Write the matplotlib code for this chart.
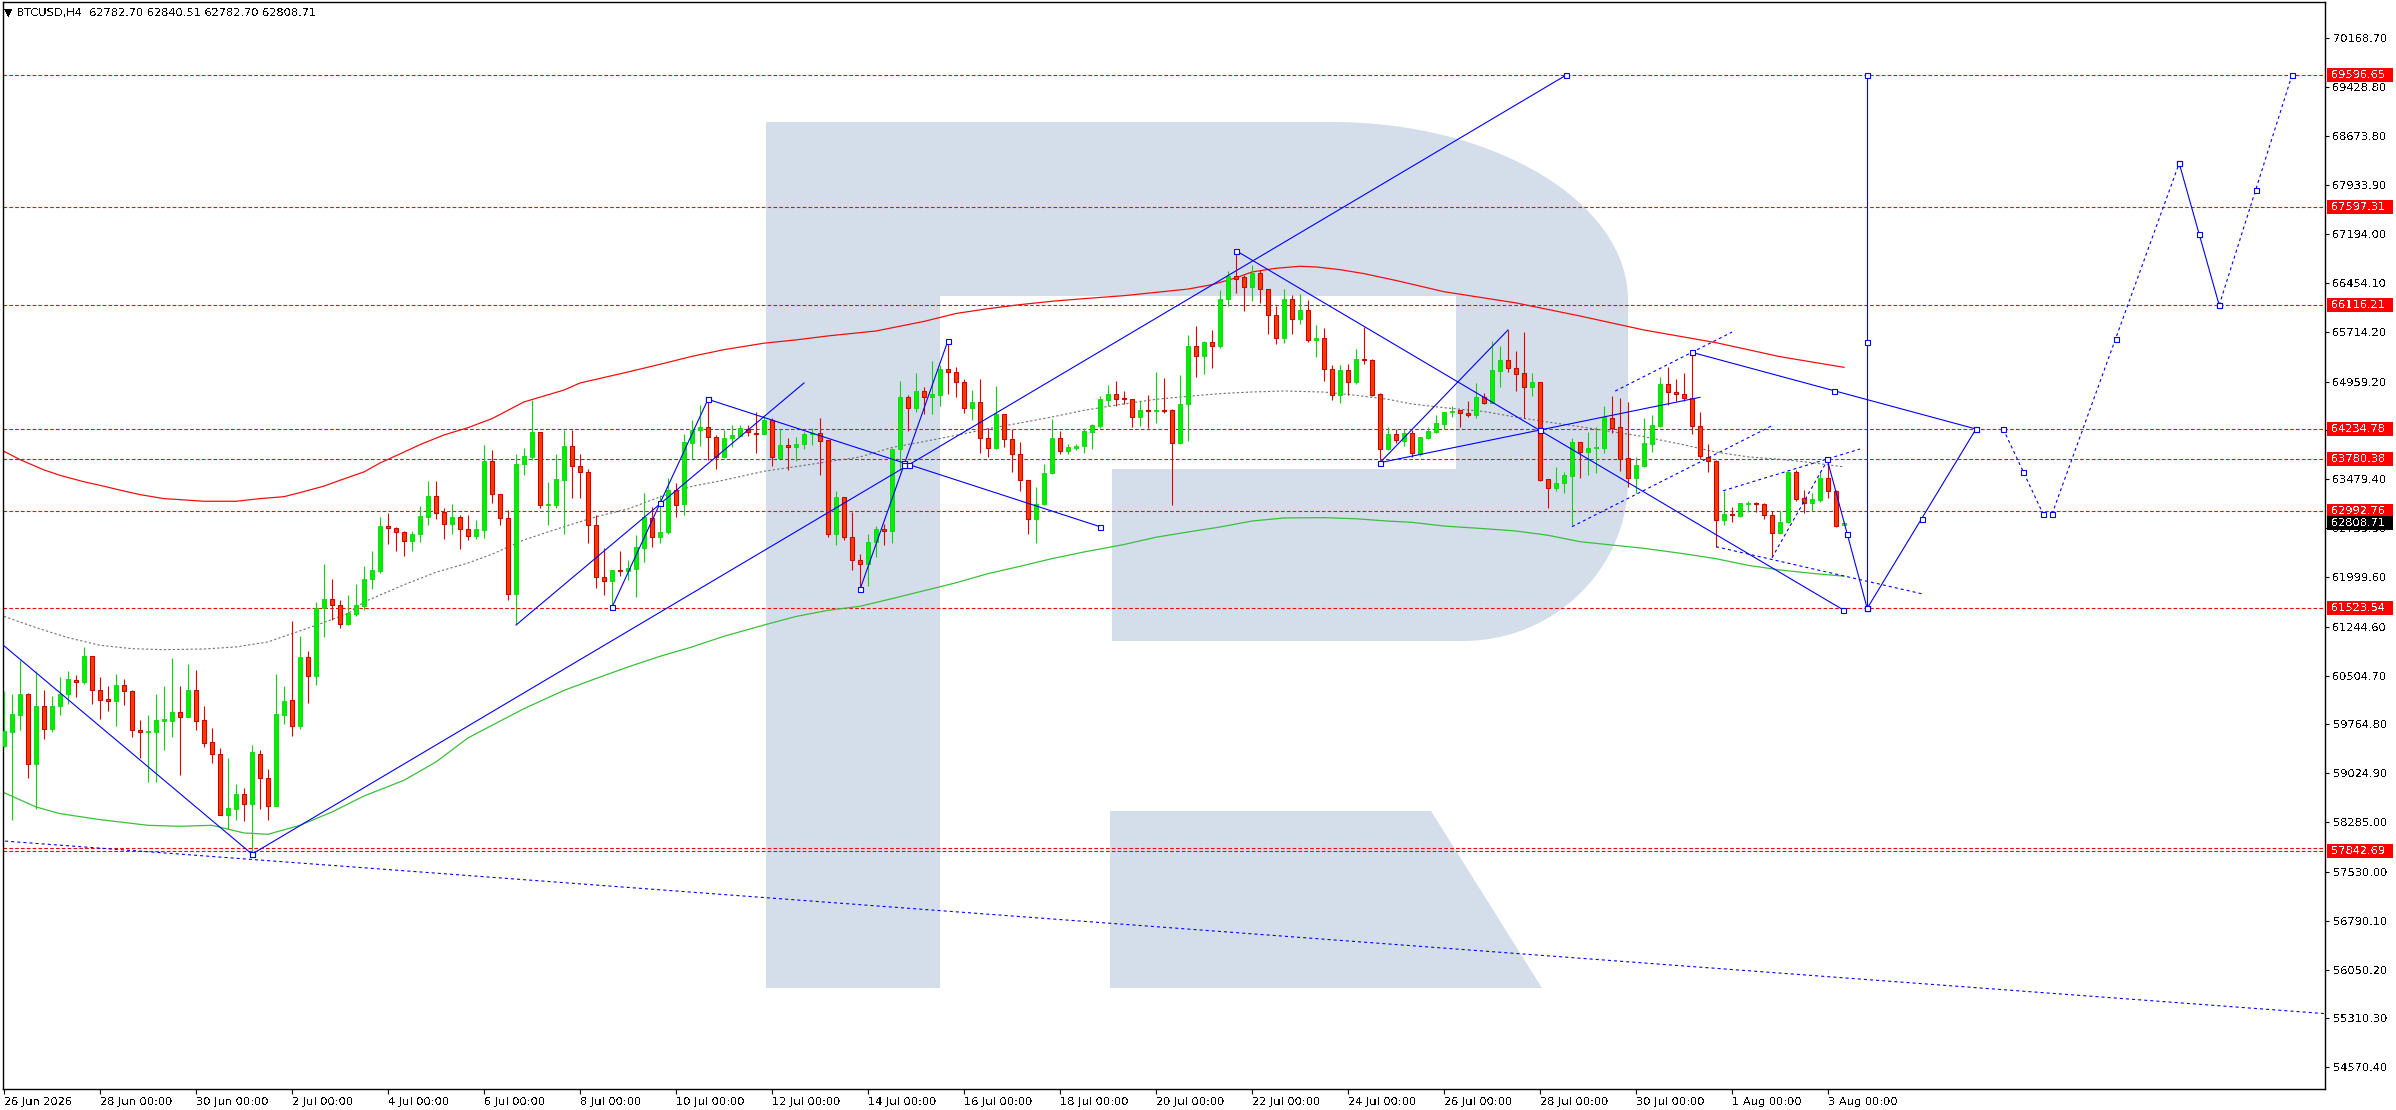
import matplotlib

matplotlib.use("Agg")
import matplotlib.pyplot as plt
import matplotlib.transforms as mtransforms
from matplotlib.patches import PathPatch, Polygon, Rectangle
from matplotlib.path import Path
import numpy as np

plt.rcParams["font.family"] = ["DejaVu Sans"]
plt.rcParams["lines.scale_dashes"] = False
plt.rcParams["text.antialiased"] = False

W, H = 2396, 1110

# BTCUSD H4 candles, bar 0 = 26 Jun 2026 00:00, last bar = 3 Aug 08:00
bar_open = [
    59438, 59650, 59908, 60231, 59170, 60039, 59696, 60044, 60231, 60443,
    60408, 60797, 60292, 60145, 60120, 60367, 60276, 59686, 59650, 59650,
    59822, 59817, 59948, 59882, 60292, 59837, 59494, 59312, 58398, 58484,
    58716, 58565, 59322, 58958, 58529, 59913, 60130, 59746, 60781, 60498,
    61529, 61670, 61579, 61286, 61443, 61559, 61968, 62084, 62766, 62746,
    62680, 62544, 62650, 62908, 63220, 62983, 62801, 62902, 62731, 62619,
    62705, 63751, 63261, 62897, 61746, 63715, 63816, 64190, 63094, 63089,
    63468, 63978, 63685, 63594, 62791, 62003, 61943, 62104, 62089, 62119,
    62433, 62897, 62604, 62675, 63311, 63099, 64028, 64230, 64276, 64119,
    63816, 64104, 64134, 64240, 64185, 64170, 64372, 63806, 63993, 63968,
    64018, 64160, 64180, 64069, 62645, 63205, 62604, 62261, 62200, 62534,
    62730, 62695, 63942, 64725, 64564, 64811, 64725, 64756, 65155, 65104,
    64957, 64558, 64644, 64104, 63952, 64473, 64094, 63867, 63473, 62882,
    63099, 63579, 64109, 63902, 63952, 63983, 64195, 64281, 64680, 64776,
    64705, 64700, 64422, 64533, 64513, 64533, 64533, 64028, 64624, 65493,
    65346, 65553, 65498, 66215, 66553, 66543, 66392, 66604, 66366, 65972,
    65624, 66215, 65912, 66048, 65594, 65624, 65154, 64750, 65139, 64952,
    65306, 65291, 64776, 63942, 64164, 64063, 64174, 63856, 64109, 64200,
    64316, 64492, 64528, 64482, 64452, 64720, 64639, 65124, 65285, 65159,
    65083, 64881, 64952, 63477, 63341, 63417, 63533, 64038, 63896, 63947,
    63957, 64401, 64265, 63795, 63503, 63684, 64008, 64290, 64917, 64805,
    64765, 64715, 64290, 63821, 63755, 62861, 62947, 62927, 63104, 63124,
    63099, 62932, 62659, 62826, 63583, 63189, 63114, 63164, 63492, 63306,
    62782.70,
]
bar_high = [
    60266, 60231, 60746, 60241, 60569, 60282, 60191, 60484, 60569, 60509,
    60938, 60807, 60484, 60342, 60534, 60458, 60282, 59837, 59903, 60221,
    60342, 60776, 60342, 60675, 60585, 60039, 59706, 59413, 59261, 58868,
    58802, 59448, 59372, 59085, 60524, 60342, 61332, 61110, 60872, 61615,
    62190, 61963, 61645, 61721, 61887, 62170, 62387, 62907, 62968, 62756,
    62690, 62695, 63069, 63448, 63448, 63044, 63099, 62933, 62933, 62867,
    63993, 63917, 63261, 63008, 63857, 63958, 64675, 64190, 63432, 63857,
    64230, 64230, 63857, 63634, 62932, 62443, 62099, 62392, 62251, 62634,
    63276, 63059, 63246, 63498, 63422, 64170, 64382, 64599, 64675, 64145,
    64230, 64296, 64296, 64296, 64498, 64432, 64412, 64240, 64104, 64119,
    64195, 64261, 64412, 64069, 63296, 63210, 62983, 62352, 62655, 62766,
    62806, 63958, 64962, 64750, 65089, 64877, 65265, 65205, 65578, 65180,
    65003, 64826, 64993, 64261, 64887, 64473, 64246, 64044, 63473, 63362,
    63705, 64387, 64210, 64018, 64018, 64261, 64321, 64735, 64902, 64963,
    64811, 64700, 64660, 64750, 65099, 65018, 64548, 65053, 65659, 65796,
    65568, 65735, 66341, 66634, 66942, 66568, 66720, 66644, 66366, 66104,
    66366, 66276, 66281, 66200, 65811, 65776, 65205, 65205, 65220, 65457,
    65786, 65306, 64786, 64271, 64240, 64235, 64225, 64124, 64275, 64452,
    64502, 64588, 64528, 64669, 64932, 64780, 65573, 65497, 65740, 65427,
    65714, 65083, 64952, 63482, 63659, 63588, 64098, 64048, 64200, 64275,
    64588, 64740, 64715, 64644, 63821, 64401, 64452, 65033, 65184, 64992,
    65083, 65411, 64492, 64007, 63770, 63306, 63053, 63124, 63154, 63139,
    63114, 62997, 62997, 63608, 63619, 63316, 63265, 63608, 63770, 63316,
    62840.51,
]
bar_low = [
    59423, 58312, 59675, 58953, 58489, 59539, 59655, 59908, 60080, 60180,
    60372, 60080, 59852, 59968, 59741, 60059, 59580, 59256, 58893, 58893,
    59383, 59580, 59004, 59877, 59675, 59423, 59181, 58398, 58186, 58312,
    58302, 57830, 58489, 58322, 58529, 59777, 59585, 59701, 60090, 60367,
    61090, 61342, 61226, 61266, 61413, 61493, 61822, 62059, 62504, 62393,
    62317, 62393, 62529, 62786, 62882, 62579, 62650, 62423, 62564, 62579,
    62594, 63119, 62791, 61655, 61281, 63549, 63776, 63049, 62781, 63044,
    62650, 63195, 63195, 62518, 61837, 61721, 61534, 62008, 61948, 61695,
    62226, 62453, 62513, 62645, 62907, 62943, 63786, 63983, 63776, 63639,
    63806, 63968, 64130, 64129, 63877, 64160, 63680, 63801, 63624, 63751,
    63942, 64003, 63549, 62604, 62488, 62564, 62099, 61806, 61867, 62301,
    62488, 62513, 63624, 64210, 64498, 64473, 64473, 64584, 64776, 64725,
    64483, 64382, 63877, 63816, 63937, 63968, 63589, 63301, 62655, 62513,
    63094, 63564, 63867, 63867, 63917, 63877, 63932, 64261, 64584, 64584,
    64614, 64271, 64281, 64256, 64331, 64488, 63084, 64018, 64059, 65028,
    65069, 65165, 65468, 66099, 66301, 66028, 66180, 66149, 65675, 65533,
    65548, 65675, 65836, 65558, 65331, 64968, 64685, 64634, 64750, 64917,
    65220, 64735, 63725, 63917, 64033, 63987, 63811, 63831, 64083, 64184,
    64235, 64417, 64275, 64417, 64401, 64619, 64629, 64881, 65109, 64821,
    64401, 64745, 63457, 63048, 63306, 63275, 62780, 63492, 63543, 63578,
    63881, 64184, 63603, 63366, 63265, 63659, 63896, 64275, 64603, 64669,
    64669, 64164, 63780, 63593, 62457, 62785, 62836, 62912, 62977, 62977,
    62871, 62295, 62649, 62821, 63154, 62972, 62997, 63139, 63189, 62760,
    62782.70,
]
bar_close = [
    59660, 59918, 60231, 59170, 60039, 59696, 60049, 60231, 60448, 60408,
    60797, 60292, 60140, 60120, 60357, 60276, 59686, 59650, 59660, 59827,
    59842, 59948, 59882, 60292, 59817, 59489, 59312, 58398, 58494, 58716,
    58565, 59342, 58958, 58529, 59918, 60115, 59746, 60781, 60498, 61534,
    61670, 61579, 61286, 61448, 61579, 61973, 62100, 62766, 62741, 62680,
    62549, 62655, 62918, 63220, 62973, 62807, 62902, 62726, 62625, 62720,
    63751, 63261, 62897, 61746, 63715, 63826, 64190, 63094, 63104, 63478,
    63978, 63685, 63594, 62791, 62003, 61943, 62099, 62089, 62129, 62448,
    62907, 62604, 62685, 63311, 63094, 64038, 64230, 64276, 64119, 63816,
    64109, 64145, 64250, 64195, 64170, 64372, 63816, 63993, 63968, 64018,
    64170, 64180, 64059, 62655, 63210, 62604, 62261, 62200, 62534, 62730,
    62695, 63942, 64725, 64564, 64811, 64725, 64766, 65155, 65104, 64957,
    64558, 64644, 64104, 63952, 64473, 64094, 63867, 63473, 62882, 63099,
    63579, 64109, 63902, 63963, 63988, 64210, 64296, 64690, 64776, 64695,
    64690, 64422, 64523, 64513, 64533, 64513, 64028, 64624, 65493, 65346,
    65553, 65498, 66215, 66553, 66513, 66392, 66604, 66366, 65972, 65624,
    66215, 65912, 66048, 65594, 65624, 65154, 64750, 65139, 64952, 65306,
    65281, 64760, 63942, 64160, 64073, 64174, 63871, 64114, 64210, 64326,
    64492, 64507, 64477, 64452, 64730, 64639, 65134, 65285, 65159, 65078,
    64881, 64952, 63467, 63341, 63422, 63543, 64038, 63896, 63957, 63972,
    64417, 64260, 63785, 63503, 63695, 64023, 64300, 64917, 64805, 64765,
    64715, 64290, 63831, 63755, 62861, 62947, 62932, 63114, 63124, 63099,
    62932, 62659, 62826, 63583, 63179, 63114, 63179, 63492, 63306, 62775,
    62808.71,
]

# moving averages (bar index, price)
ma_red_bar = [0, 2, 5, 7, 10, 12, 15, 17, 20, 22, 25, 29, 32, 35, 37, 40, 42, 45,
              47, 50, 52, 55, 58, 61, 65, 70, 72, 78, 82, 86, 90, 95, 99, 103,
              109, 115, 119, 123, 127, 131, 135, 140, 144, 148, 151, 154, 156,
              159, 162, 164, 167, 170, 174, 180, 189, 197, 205, 214, 222, 230]
ma_red = [63902, 63776, 63620, 63538, 63440, 63387, 63300, 63246, 63185, 63170,
          63145, 63145, 63185, 63215, 63276, 63375, 63463, 63590, 63725, 63890,
          64003, 64150, 64260, 64397, 64650, 64830, 64937, 65104, 65220, 65341,
          65442, 65540, 65590, 65650, 65725, 65870, 65990, 66063, 66124, 66175,
          66215, 66260, 66310, 66360, 66427, 66530, 66619, 66675, 66705, 66695,
          66654, 66594, 66490, 66320, 66150, 65952, 65740, 65548, 65336, 65174]

ma_green_bar = [0, 4, 7, 12, 18, 22, 26, 30, 33, 37, 41, 45, 50, 54, 58, 61, 65,
                70, 74, 78, 82, 86, 90, 95, 99, 103, 107, 111, 115, 119, 123,
                127, 131, 135, 140, 144, 148, 152, 156, 160, 165, 169, 173, 176,
                180, 185, 189, 193, 197, 201, 205, 210, 214, 218, 222, 226, 230]
ma_green = [58731, 58514, 58413, 58322, 58236, 58221, 58236, 58120, 58100, 58236,
            58438, 58680, 58918, 59196, 59560, 59751, 60003, 60280, 60460, 60635,
            60796, 60938, 61100, 61270, 61400, 61493, 61554, 61670, 61790, 61910,
            62049, 62160, 62276, 62377, 62490, 62600, 62680, 62755, 62846, 62892,
            62897, 62880, 62845, 62826, 62770, 62730, 62695, 62630, 62533, 62482,
            62432, 62350, 62275, 62175, 62104, 62053, 62010]

ma_gray_bar = [0, 4, 8, 12, 16, 20, 25, 29, 33, 36, 39, 43, 45, 50, 54, 58, 61,
               65, 70, 74, 78, 82, 86, 90, 95, 99, 103, 107, 111, 115, 119, 123,
               127, 131, 135, 140, 144, 148, 152, 156, 160, 165, 169, 173, 176,
               180, 185, 189, 193, 197, 201, 205, 210, 214, 218, 222, 226, 230]
ma_gray = [61402, 61231, 61079, 60963, 60912, 60897, 60907, 60938, 61014, 61140,
           61266, 61443, 61620, 61880, 62070, 62210, 62342, 62560, 62760, 62910,
           63030, 63210, 63372, 63465, 63600, 63670, 63745, 63816, 63960, 64050,
           64144, 64245, 64331, 64422, 64523, 64620, 64690, 64735, 64776, 64801,
           64816, 64800, 64750, 64690, 64619, 64563, 64505, 64420, 64345, 64275,
           64200, 64124, 64000, 63890, 63818, 63780, 63730, 63665]

# horizontal levels (red dashed) and their price tags
levels = [69596.65, 67597.31, 66116.21, 64234.78, 63780.38, 62992.76, 61523.54, 57842.69]
level_twin = 57885
last_price = 62808.71

# analyst drawings: (bar0, price0, bar1, price1, dashed, selected)
trend_lines = [
    (-40, 65028, 31, 57800, False, True),
    (31, 57800, 195.25, 69600, False, True),
    (64, 61270, 100, 64937, False, False),
    (76, 61538, 88, 64690, False, True),
    (88, 64690, 137, 62760, False, True),
    (107, 61810, 118, 65580, False, True),
    (154, 66942, 229.9, 61500, False, True),
    (172, 63730, 188, 65740, False, False),
    (172, 63730, 212, 64720, False, False),
    (211, 65401, 246.5, 64240, False, True),
    (227.9, 63780, 232.9, 61523, False, True),
    (232.9, 61523, 232.9, 69597, False, True),
    (232.9, 61523, 246.5, 64240, False, True),
    (196, 62760, 221, 64290, True, False),
    (201.4, 64815, 216, 65708, True, False),
    (214.9, 63305, 232, 63937, True, False),
    (214, 62457, 240, 61736, True, False),
    (221, 62290, 228, 63780, True, False),
    (-1, 58007, 291, 55375, True, False),
    (249.9, 64240, 254.9, 62950, True, True),
    (256, 62950, 271.9, 68265, True, True),
    (271.9, 68265, 276.9, 66116, False, True),
    (276.9, 66116, 286, 69600, True, True),
]
lone_marks = [(172, 63730)]

price_ticks = [70168.70, 69428.80, 68673.80, 67933.90, 67194.00, 66454.10, 65714.20,
               64959.20, 64219.30, 63479.40, 62739.50, 61999.60, 61244.60, 60504.70,
               59764.80, 59024.90, 58285.00, 57530.00, 56790.10, 56050.20, 55310.30,
               54570.40]
date_labels = ["26 Jun 2026", "28 Jun 00:00", "30 Jun 00:00", "2 Jul 00:00",
               "4 Jul 00:00", "6 Jul 00:00", "8 Jul 00:00", "10 Jul 00:00",
               "12 Jul 00:00", "14 Jul 00:00", "16 Jul 00:00", "18 Jul 00:00",
               "20 Jul 00:00", "22 Jul 00:00", "24 Jul 00:00", "26 Jul 00:00",
               "28 Jul 00:00", "30 Jul 00:00", "1 Aug 00:00", "3 Aug 00:00"]
header = "\u25bc BTCUSD,H4  62782.70 62840.51 62782.70 62808.71"

BLUE = "#0000FF"
RED = "#FF0000"
UP = "#00EE00"
DOWN_FILL = "#FF3A00"
DOWN_EDGE = "#D00000"
LOGO = "#D3DEEA"
FS = 8.2

# pixel frame of the plot area in the 2396x1110 picture
AX_L, AX_T, AX_R, AX_B = 2.5, 2, 2325, 1089

fig = plt.figure(figsize=(W / 100, H / 100), dpi=100)
ax = fig.add_axes([AX_L / W, 1 - AX_B / H, (AX_R - AX_L) / W, (AX_B - AX_T) / H])
ax.set_xlim(-0.1875, 290.125)
ax.set_ylim(54241, 70709)

# image-pixel coordinates (y down) -> figure
px = mtransforms.Affine2D().scale(1 / W, -1 / H).translate(0, 1) + fig.transFigure

# watermark "R"
verts = [(766, 122), (1332, 122), (1494, 122), (1628, 202), (1628, 300),
         (1628, 480), (1628, 569), (1554, 641), (1463, 641), (1112, 641),
         (1112, 469), (1456, 469), (1456, 296), (940, 296), (940, 988),
         (766, 988), (766, 122)]
codes = [Path.MOVETO, Path.LINETO, Path.CURVE4, Path.CURVE4, Path.CURVE4,
         Path.LINETO, Path.CURVE4, Path.CURVE4, Path.CURVE4, Path.LINETO,
         Path.LINETO, Path.LINETO, Path.LINETO, Path.LINETO, Path.LINETO,
         Path.LINETO, Path.CLOSEPOLY]
ax.add_patch(PathPatch(Path(verts, codes), transform=px, fc=LOGO, ec="none", zorder=0.5))
ax.add_patch(Polygon([(1110, 811), (1431, 811), (1542, 988), (1110, 988)],
                     closed=True, transform=px, fc=LOGO, ec="none", zorder=0.5))

# levels
for lv in levels + [level_twin]:
    ax.axhline(lv, color=RED, lw=0.8, ls=(0, (2.6, 1.6)), zorder=1)

# moving averages
ax.plot(ma_red_bar, ma_red, color="#F01010", lw=0.9, zorder=2)
ax.plot(ma_green_bar, ma_green, color="#3CBE3C", lw=0.9, zorder=2)
ax.plot(ma_gray_bar, ma_gray, color="#707070", lw=0.8, ls=(0, (1.6, 1.6)), zorder=2)

# candles
o = np.array(bar_open, dtype=float)
hi = np.array(bar_high, dtype=float)
lo = np.array(bar_low, dtype=float)
c = np.array(bar_close, dtype=float)
x = np.arange(len(o))
up = c >= o
ax.vlines(x[up], lo[up], hi[up], color="#10D010", lw=0.8, zorder=3)
ax.vlines(x[~up], lo[~up], hi[~up], color="#E00000", lw=0.8, zorder=3)
ax.bar(x[up], np.maximum(c[up] - o[up], 12), bottom=o[up], width=0.55,
       color=UP, edgecolor="#00D800", lw=0.6, zorder=4)
ax.bar(x[~up], np.maximum(o[~up] - c[~up], 12), bottom=c[~up], width=0.55,
       color=DOWN_FILL, edgecolor=DOWN_EDGE, lw=0.8, zorder=4)

# trend lines
for x0, y0, x1, y1, dashed, marked in trend_lines:
    ls = (0, (2.2, 2.2)) if dashed else "-"
    ax.plot([x0, x1], [y0, y1], color=BLUE, lw=0.8, ls=ls, zorder=5)
    if marked:
        ax.plot([x0, (x0 + x1) / 2, x1], [y0, (y0 + y1) / 2, y1], ls="none",
                marker="s", ms=3.6, mfc="white", mec=BLUE, mew=0.8, zorder=6)
for bx, by in lone_marks:
    ax.plot([bx], [by], ls="none", marker="s", ms=3.6, mfc="white", mec=BLUE,
            mew=0.8, zorder=6)

# axes styling
for sp in ax.spines.values():
    sp.set_linewidth(1.0)
    sp.set_color("black")
ax.yaxis.tick_right()
ax.set_yticks(price_ticks)
ax.set_yticklabels([f"{t:.2f}" for t in price_ticks])
ax.tick_params(axis="y", direction="out", length=3, width=0.8, pad=2.5,
               labelsize=FS, colors="black")
ax.set_xticks(np.arange(0, 12 * len(date_labels), 12))
ax.set_xticklabels(date_labels, ha="left")
ax.tick_params(axis="x", direction="out", length=3.5, width=0.8, pad=2,
               labelsize=FS, colors="black")

# price tags on the right scale
tag = mtransforms.blended_transform_factory(px, ax.transData)
tag_h = 14 * 15.15
for lv, fc in [(lv, RED) for lv in levels] + [(last_price, "black")]:
    ax.add_patch(Rectangle((AX_R + 1.5, lv - tag_h / 2), 66, tag_h, transform=tag,
                           fc=fc, ec="none", clip_on=False, zorder=20))
    ax.text(AX_R + 6, lv, f"{lv:.2f}", transform=tag, color="white", fontsize=FS,
            va="center", ha="left", clip_on=False, zorder=21)

fig.text(4 / W, 1 - 13 / H, header, fontsize=FS, va="center", ha="left")

fig.savefig("out.png", dpi=100, facecolor="white")
